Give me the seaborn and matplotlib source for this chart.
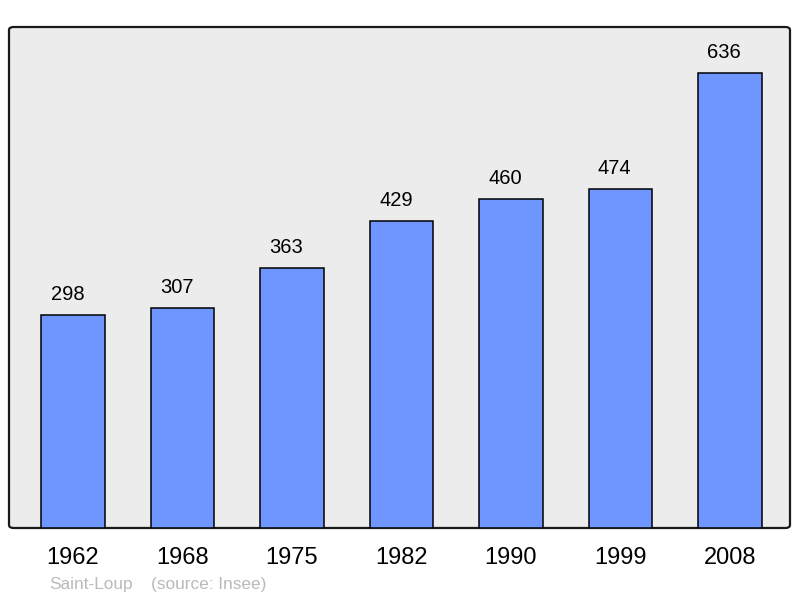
import matplotlib
matplotlib.use("Agg")
import matplotlib.pyplot as plt
import seaborn as sns
import pandas as pd
from matplotlib.patches import FancyBboxPatch

years = ["1962", "1968", "1975", "1982", "1990", "1999", "2008"]
population = [298, 307, 363, 429, 460, 474, 636]
town = "Saint-Loup"
source = "(source: Insee)"

df = pd.DataFrame({"year": years, "pop": population})

sns.set_style("white")
plt.rcParams["font.family"] = ["Liberation Sans", "DejaVu Sans"]

fig = plt.figure(figsize=(8, 5.98), dpi=100)
ax = fig.add_axes([9 / 800, 70 / 598, 781 / 800, 501 / 598])
ax.set_facecolor("none")

# rounded frame behind the bars
frame = FancyBboxPatch((0, 0), 1, 1, boxstyle="round,pad=0,rounding_size=0.006",
                       transform=ax.transAxes, facecolor="#ececec",
                       edgecolor="#1a1a1a", linewidth=1.6, zorder=0, clip_on=False)
ax.add_patch(frame)

sns.barplot(data=df, x="year", y="pop", color="#6f96ff", saturation=1,
            edgecolor="black", linewidth=1.1, width=0.58, ax=ax, zorder=2)

# value labels sit a little left of the bar centre in the original
for i, v in enumerate(population):
    ax.annotate(str(v), (i, v), xytext=(-4, 8), textcoords="offset points",
                ha="center", va="bottom", fontsize=14.5, color="black")

ax.set_ylim(0, 700)
ax.set_xlim(-0.585, 6.55)
ax.set_yticks([])
ax.set_xlabel("")
ax.set_ylabel("")
ax.tick_params(axis="x", length=0, pad=14, labelsize=17, labelcolor="black")
for s in ax.spines.values():
    s.set_visible(False)

fig.text(49 / 800, 1 - 584 / 598, town, color="#bababa", fontsize=12.4, va="center")
fig.text(151 / 800, 1 - 584 / 598, source, color="#bababa", fontsize=12.4, va="center")

fig.savefig("out.png", dpi=100)
